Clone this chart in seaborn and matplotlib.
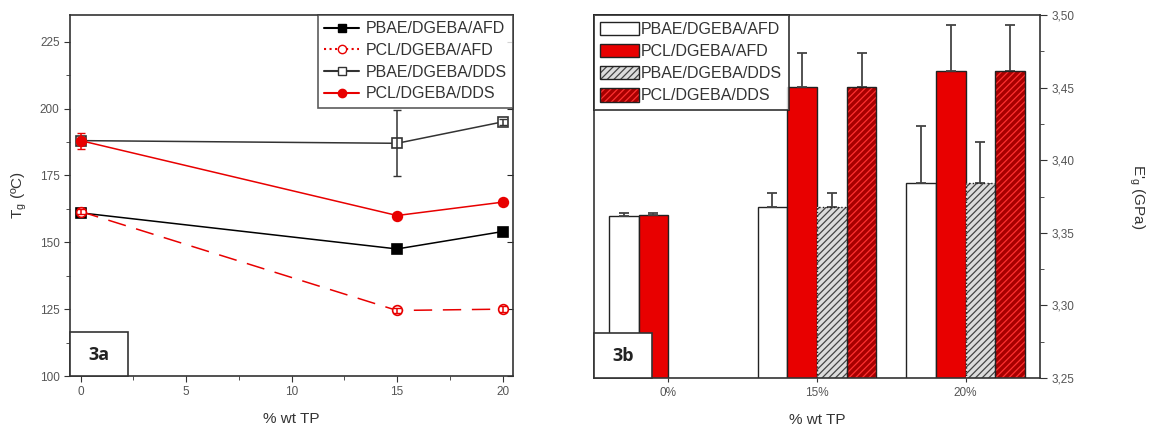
import numpy as np
import pandas as pd
import matplotlib
matplotlib.use('Agg')
import matplotlib.pyplot as plt
from matplotlib.patches import Patch, Rectangle
from matplotlib.lines import Line2D
from matplotlib.container import BarContainer
from matplotlib.ticker import MultipleLocator, FuncFormatter
import seaborn as sns

sns.set_style('ticks')
plt.rcParams['font.family'] = ['Liberation Sans', 'DejaVu Sans']
plt.rcParams['hatch.linewidth'] = 0.9

# --- data, panel 3a (Tg vs % wt TP)
wt_tp = [0, 15, 20]
series = ['PBAE/DGEBA/AFD', 'PCL/DGEBA/AFD', 'PBAE/DGEBA/DDS', 'PCL/DGEBA/DDS']
tg_pbae_afd = [161.0, 147.5, 154.0]
tg_pcl_afd = [161.5, 124.5, 125.0]
tg_pbae_dds = [188.0, 187.0, 195.0]
tg_pcl_dds = [188.0, 160.0, 165.0]
tg_err_pbae_afd = [1.0, 1.0, 1.0]
tg_err_pcl_afd = [1.0, 1.0, 1.0]
tg_err_pbae_dds = [1.0, 12.3, 1.0]
tg_err_pcl_dds = [3.0, 1.0, 1.0]

# --- data, panel 3b (E'g vs % wt TP)
categories = ['0%', '15%', '20%']
eg_pbae_afd = [3.3617, 3.3677, 3.3846]
eg_pcl_afd = [3.3620, 3.4502, 3.4615]
eg_pbae_dds = [np.nan, 3.3677, 3.3846]
eg_pcl_dds = [np.nan, 3.4502, 3.4615]
eg_err_pbae_afd = [0.0018, 0.0100, 0.0390]
eg_err_pcl_afd = [0.0018, 0.0240, 0.0316]
eg_err_pbae_dds = [np.nan, 0.0100, 0.0282]
eg_err_pcl_dds = [np.nan, 0.0240, 0.0316]

RED = '#e80000'
DARKRED = '#a80000'
TICKCOL = '#555555'

fig = plt.figure(figsize=(11.58, 4.33), dpi=100)
ax1 = fig.add_axes([0.0605, 0.1316, 0.3826, 0.834])
ax2 = fig.add_axes([0.513, 0.127, 0.385, 0.838])

# ---------------- panel 3a
styles = [
    (tg_pbae_afd, tg_err_pbae_afd, 'black', '-', 's', 'black'),
    (tg_pcl_afd, tg_err_pcl_afd, RED, (0, (12, 7)), 'o', 'white'),
    (tg_pbae_dds, tg_err_pbae_dds, '#333333', '-', 's', 'white'),
    (tg_pcl_dds, tg_err_pcl_dds, RED, '-', 'o', RED),
]
for name, (vals, errs, col, ls, mk, mfc) in zip(series, styles):
    sns.lineplot(x=wt_tp, y=vals, ax=ax1, color=col, linestyle=ls, lw=1.1,
                 marker=mk, markersize=7, markerfacecolor=mfc,
                 markeredgecolor=col, markeredgewidth=1.2)
    ax1.errorbar(wt_tp, vals, yerr=errs, fmt='none', ecolor=col,
                 elinewidth=1.1, capsize=3)

ax1.set_xlim(-0.5, 20.5)
ax1.set_ylim(100, 235)
ax1.xaxis.set_major_locator(MultipleLocator(5))
ax1.xaxis.set_minor_locator(MultipleLocator(2.5))
ax1.yaxis.set_major_locator(MultipleLocator(25))
ax1.yaxis.set_minor_locator(MultipleLocator(12.5))
ax1.tick_params(which='both', direction='out', colors='#333333',
                labelcolor=TICKCOL, labelsize=8.5)
ax1.tick_params(which='major', length=4)
ax1.tick_params(which='minor', length=3)
sec = ax1.secondary_yaxis('right')
sec.yaxis.set_major_locator(MultipleLocator(25))
sec.tick_params(direction='in', labelright=False, length=4)
for s in ax1.spines.values():
    s.set_color('#333333')
    s.set_linewidth(1.2)
sec.spines['right'].set_visible(False)
ax1.set_xlabel('% wt TP', fontsize=11, color='#333333', labelpad=10)
ax1.set_ylabel(r'T$_{\mathregular{g}}$ (ºC)', fontsize=11, color='#333333',
               labelpad=8)

leg_handles = [
    Line2D([], [], color='black', ls='-', marker='s', mfc='black', ms=6),
    Line2D([], [], color=RED, ls=':', marker='o', mfc='white', ms=6),
    Line2D([], [], color='#333333', ls='-', marker='s', mfc='white', ms=6),
    Line2D([], [], color=RED, ls='-', marker='o', mfc=RED, ms=6),
]
leg1 = ax1.legend(leg_handles, series, loc='upper right', fontsize=11.5,
                  frameon=True, fancybox=False, edgecolor='#333333',
                  borderaxespad=0, handlelength=2.2, labelspacing=0.42,
                  handletextpad=0.4, borderpad=0.4)
leg1.get_frame().set_linewidth(1.2)
for t in leg1.get_texts():
    t.set_color('#333333')

ax1.add_patch(Rectangle((0, 0), 0.131, 0.122, transform=ax1.transAxes,
                        facecolor='white', edgecolor='#333333', lw=1.2,
                        zorder=5, clip_on=False))
ax1.text(0.0655, 0.058, '3a', transform=ax1.transAxes, ha='center',
         va='center', fontsize=13, fontweight='bold', color='#222222',
         zorder=6, family=['Open Sans', 'DejaVu Sans'])

# ---------------- panel 3b
df = pd.DataFrame({
    'cat': categories * 4,
    'series': [s for s in series for _ in categories],
    'E': eg_pbae_afd + eg_pcl_afd + eg_pbae_dds + eg_pcl_dds,
    'err': eg_err_pbae_afd + eg_err_pcl_afd + eg_err_pbae_dds + eg_err_pcl_dds,
})
palette = {series[0]: 'white', series[1]: RED,
           series[2]: '#dcdcdc', series[3]: DARKRED}
sns.barplot(data=df.dropna(), x='cat', y='E', hue='series', order=categories,
            hue_order=series, palette=palette, saturation=1, width=0.8,
            edgecolor='#222222', linewidth=1.0, errorbar=None, ax=ax2,
            legend=False)

bar_conts = [c for c in ax2.containers if isinstance(c, BarContainer)]
hatch_cols = {2: '#444444', 3: '#ff3030'}
for i, cont in enumerate(bar_conts):
    errs = df[df['series'] == series[i]]['err'].to_numpy()
    for p in cont.patches:
        xc = p.get_x() + p.get_width() / 2
        k = int(round(xc))
        top = p.get_y() + p.get_height()
        ax2.errorbar([xc], [top], yerr=[[0], [errs[k]]], fmt='none',
                     ecolor='#444444', elinewidth=1.3, capsize=3.5,
                     capthick=1.3, zorder=1)
        if i in hatch_cols:
            p.set_hatch('/////')
            p.set_edgecolor(hatch_cols[i])
            p.set_linewidth(0)
            ax2.add_patch(Rectangle((p.get_x(), p.get_y()), p.get_width(),
                                    p.get_height(), fill=False,
                                    edgecolor='#222222', lw=1.0,
                                    ls=':' if i == 2 else '-', zorder=3))

ax2.set_xlim(-0.5, 2.5)
ax2.set_ylim(3.25, 3.50)
ax2.yaxis.tick_right()
ax2.yaxis.set_label_position('right')
ax2.yaxis.set_major_locator(MultipleLocator(0.05))
ax2.yaxis.set_minor_locator(MultipleLocator(0.025))
ax2.yaxis.set_major_formatter(FuncFormatter(lambda v, pos: f'{v:.2f}'.replace('.', ',')))
ax2.tick_params(which='both', direction='out', colors='#333333',
                labelcolor=TICKCOL, labelsize=8.5)
ax2.tick_params(axis='y', which='major', length=5)
ax2.tick_params(axis='y', which='minor', length=3)
ax2.tick_params(axis='x', length=3)
for s in ax2.spines.values():
    s.set_color('#333333')
    s.set_linewidth(1.2)
ax2.set_xlabel('% wt TP', fontsize=11, color='#333333', labelpad=10)
ax2.set_ylabel(r"E'$_{\mathregular{g}}$ (GPa)", fontsize=11, color='#333333',
               rotation=-90, labelpad=52)

leg_patches = [
    Patch(facecolor='white', edgecolor='#222222'),
    Patch(facecolor=RED, edgecolor='#222222'),
    (Patch(facecolor='#dcdcdc', edgecolor='#444444', hatch='/////', lw=0),
     Patch(fill=False, edgecolor='#222222')),
    (Patch(facecolor=DARKRED, edgecolor='#ff3030', hatch='/////', lw=0),
     Patch(fill=False, edgecolor='#222222')),
]
leg2 = ax2.legend(leg_patches, series, loc='upper left', fontsize=11.5,
                  frameon=True, fancybox=False, edgecolor='#222222',
                  borderaxespad=0, handlelength=2.4, handleheight=0.95,
                  labelspacing=0.42, handletextpad=0.15, borderpad=0.4)
leg2.get_frame().set_linewidth(1.4)
for t in leg2.get_texts():
    t.set_color('#333333')

ax2.add_patch(Rectangle((0, 0), 0.13, 0.124, transform=ax2.transAxes,
                        facecolor='white', edgecolor='#333333', lw=1.2,
                        zorder=5, clip_on=False))
ax2.text(0.065, 0.06, '3b', transform=ax2.transAxes, ha='center',
         va='center', fontsize=13, fontweight='bold', color='#222222',
         zorder=6, family=['Open Sans', 'DejaVu Sans'])

fig.savefig('out.png', dpi=100)
